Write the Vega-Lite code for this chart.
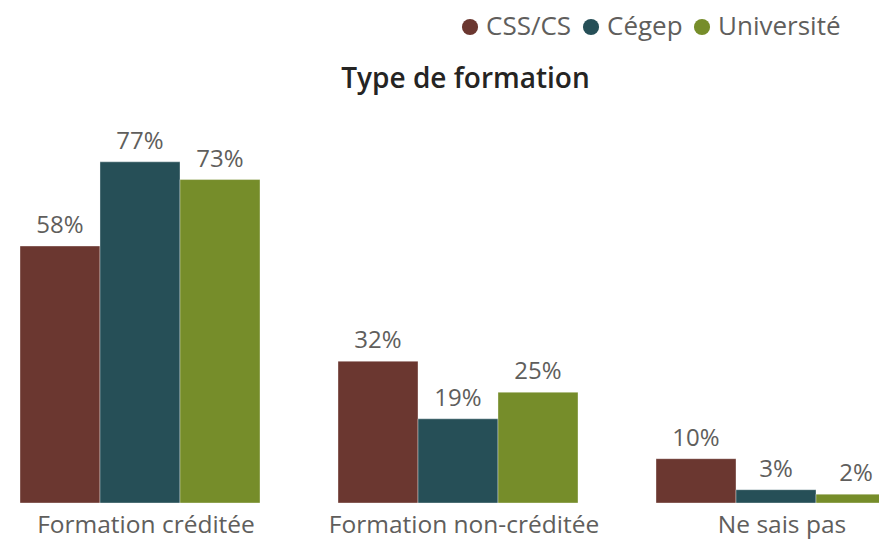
{
  "$schema": "https://vega.github.io/schema/vega-lite/v6.json",
  "width": 879,
  "height": 393,
  "autosize": {"type": "none"},
  "padding": {"left": 0, "top": 110, "right": 0, "bottom": 36},
  "background": "white",
  "config": {"view": {"stroke": null}, "font": "Open Sans"},
  "title": {
    "text": "Type de formation",
    "font": "Open Sans",
    "fontSize": 28,
    "fontWeight": 600,
    "color": "#252423",
    "anchor": "middle",
    "dx": 26,
    "offset": -80
  },
  "data": {
    "values": [
      {"type": "Formation créditée", "serie": "CSS/CS", "pct": 0.58},
      {"type": "Formation créditée", "serie": "Cégep", "pct": 0.77},
      {"type": "Formation créditée", "serie": "Université", "pct": 0.73},
      {"type": "Formation non-créditée", "serie": "CSS/CS", "pct": 0.32},
      {"type": "Formation non-créditée", "serie": "Cégep", "pct": 0.19},
      {"type": "Formation non-créditée", "serie": "Université", "pct": 0.25},
      {"type": "Ne sais pas", "serie": "CSS/CS", "pct": 0.10},
      {"type": "Ne sais pas", "serie": "Cégep", "pct": 0.03},
      {"type": "Ne sais pas", "serie": "Université", "pct": 0.02}
    ]
  },
  "encoding": {
    "x": {
      "field": "type",
      "type": "nominal",
      "sort": null,
      "scale": {"range": [20, 896], "paddingInner": 0.2453, "paddingOuter": 0},
      "axis": {
        "title": null,
        "domain": false,
        "ticks": false,
        "labelAngle": 0,
        "labelLimit": 0,
        "labelFont": "Open Sans",
        "labelFontSize": 24.5,
        "labelColor": "#605E5C",
        "labelPadding": 10,
        "labelOffset": 6
      }
    },
    "xOffset": {
      "field": "serie",
      "type": "nominal",
      "sort": ["CSS/CS", "Cégep", "Université"],
      "scale": {"paddingInner": 0, "paddingOuter": 0}
    },
    "y": {
      "field": "pct",
      "type": "quantitative",
      "scale": {"domain": [0, 0.887], "nice": false, "zero": true},
      "axis": null
    }
  },
  "layer": [
    {
      "mark": {"type": "bar", "clip": true, "stroke": "#ffffff", "strokeWidth": 0.6, "strokeOpacity": 0.6},
      "encoding": {
        "color": {
          "field": "serie",
          "type": "nominal",
          "sort": ["CSS/CS", "Cégep", "Université"],
          "scale": {
            "domain": ["CSS/CS", "Cégep", "Université"],
            "range": ["#6B3730", "#264F57", "#768D2A"]
          },
          "legend": {
            "title": null,
            "orient": "none",
            "direction": "horizontal",
            "legendX": 457,
            "legendY": -96,
            "symbolType": "circle",
            "symbolSize": 260,
            "symbolStrokeWidth": 0,
            "labelFont": "Open Sans",
            "labelFontSize": 26,
            "labelColor": "#605E5C",
            "labelOffset": 3,
            "columnPadding": 6
          }
        }
      }
    },
    {
      "mark": {"type": "text", "baseline": "alphabetic", "dy": -13, "font": "Open Sans", "fontSize": 24, "color": "#605E5C"},
      "encoding": {
        "text": {"field": "pct", "type": "quantitative", "format": ".0%"},
        "detail": {"field": "serie"}
      }
    }
  ]
}
